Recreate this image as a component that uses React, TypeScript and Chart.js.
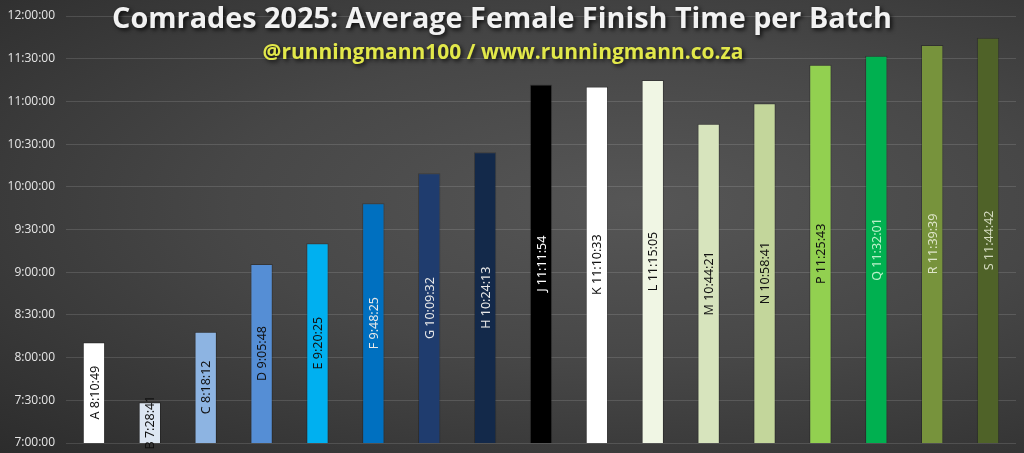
import React, { useEffect, useRef } from "react";
import { Chart, registerables } from "chart.js";

Chart.register(...registerables);

const batches = ["A", "B", "C", "D", "E", "F", "G", "H", "J", "K", "L", "M", "N", "P", "Q", "R", "S"];
const finishTimes = [
  "8:10:49", "7:28:41", "8:18:12", "9:05:48", "9:20:25", "9:48:25", "10:09:32", "10:24:13",
  "11:11:54", "11:10:33", "11:15:05", "10:44:21", "10:58:41", "11:25:43", "11:32:01", "11:39:39", "11:44:42",
];
const barColors = [
  "#ffffff", "#dce6f2", "#8db4e2", "#558ed5", "#00b0f0", "#0070c0", "#1f3c6e", "#13294a",
  "#000000", "#ffffff", "#f0f6e4", "#d7e4bd", "#c3d69b", "#92d050", "#00b050", "#77933c", "#4f6228",
];
const labelColors = [
  "#111", "#111", "#111", "#111", "#111", "#e8e8e8", "#e8e8e8", "#e8e8e8",
  "#ffffff", "#111", "#111", "#111", "#111", "#111", "#b8f0c8", "#dde4c8", "#d4dac0",
];

const toSeconds = (t: string) => {
  const [h, m, s] = t.split(":").map(Number);
  return h * 3600 + m * 60 + s;
};
const fmt = (v: number) => {
  const h = Math.floor(v / 3600);
  const m = Math.floor((v % 3600) / 60);
  const s = Math.round(v % 60);
  return `${h}:${String(m).padStart(2, "0")}:${String(s).padStart(2, "0")}`;
};

const values = finishTimes.map(toSeconds);
const yMin = 7 * 3600;
const yMax = 12 * 3600;

const overlay = {
  id: "overlay",
  afterDraw(chart: any) {
    const ctx: CanvasRenderingContext2D = chart.ctx;
    const xs = chart.scales.x;
    const ys = chart.scales.y;
    ctx.save();
    // labels inside the bars
    ctx.font = "12.5px 'Noto Sans', sans-serif";
    ctx.textAlign = "center";
    ctx.textBaseline = "middle";
    values.forEach((v, i) => {
      const x = xs.getPixelForValue(i);
      const cy = (ys.getPixelForValue(v) + ys.getPixelForValue(yMin)) / 2;
      ctx.save();
      ctx.translate(x, cy);
      ctx.rotate(-Math.PI / 2);
      ctx.fillStyle = labelColors[i];
      ctx.fillText(`${batches[i]} ${finishTimes[i]}`, 0, 1);
      ctx.restore();
    });
    // titles
    ctx.shadowColor = "rgba(0,0,0,0.8)";
    ctx.shadowBlur = 4;
    ctx.shadowOffsetX = 2;
    ctx.shadowOffsetY = 2;
    ctx.font = "bold 28.8px 'Open Sans', sans-serif";
    ctx.fillStyle = "#f2f2f2";
    ctx.fillText("Comrades 2025: Average Female Finish Time per Batch", 502, 20);
    ctx.font = "bold 21px 'Open Sans', sans-serif";
    ctx.fillStyle = "#e2e84a";
    ctx.fillText("@runningmann100 / www.runningmann.co.za", 503, 53);
    ctx.restore();
  },
};

export default function App() {
  const canvasRef = useRef<HTMLCanvasElement | null>(null);
  const chartRef = useRef<Chart | null>(null);

  useEffect(() => {
    if (!canvasRef.current) return;
    if (chartRef.current) chartRef.current.destroy();

    chartRef.current = new Chart(canvasRef.current, {
      type: "bar",
      data: {
        labels: batches,
        datasets: [
          {
            data: values,
            backgroundColor: barColors,
            borderColor: "rgba(0,0,0,0.25)",
            borderWidth: 1,
            barPercentage: 0.4,
            categoryPercentage: 1,
          },
        ],
      },
      options: {
        animation: false,
        responsive: false,
        layout: { padding: { top: 16, bottom: 10, right: 8, left: 0 } },
        plugins: {
          legend: { display: false },
          tooltip: { enabled: false },
        },
        scales: {
          x: { display: false },
          y: {
            min: yMin,
            max: yMax,
            afterFit: (s) => {
              s.width = 66;
            },
            ticks: {
              stepSize: 1800,
              color: "#e6e6e6",
              font: { size: 12, family: "'Open Sans', sans-serif" },
              padding: 2,
              callback: (v) => fmt(Number(v)),
            },
            grid: {
              color: "rgba(255,255,255,0.13)",
              drawTicks: true,
              tickLength: 9,
              tickColor: "rgba(0,0,0,0)",
            },
            border: { display: false },
          },
        },
      },
      plugins: [overlay],
    });

    return () => {
      chartRef.current?.destroy();
      chartRef.current = null;
    };
  }, []);

  return (
    <div
      style={{
        position: "fixed",
        left: 0,
        top: 0,
        width: 1024,
        height: 453,
        background: "radial-gradient(ellipse at 62% 45%, #565656 0%, #474747 45%, #2c2c2c 100%)",
      }}
    >
      <canvas ref={canvasRef} width={1024} height={453} style={{ display: "block" }} />
    </div>
  );
}
